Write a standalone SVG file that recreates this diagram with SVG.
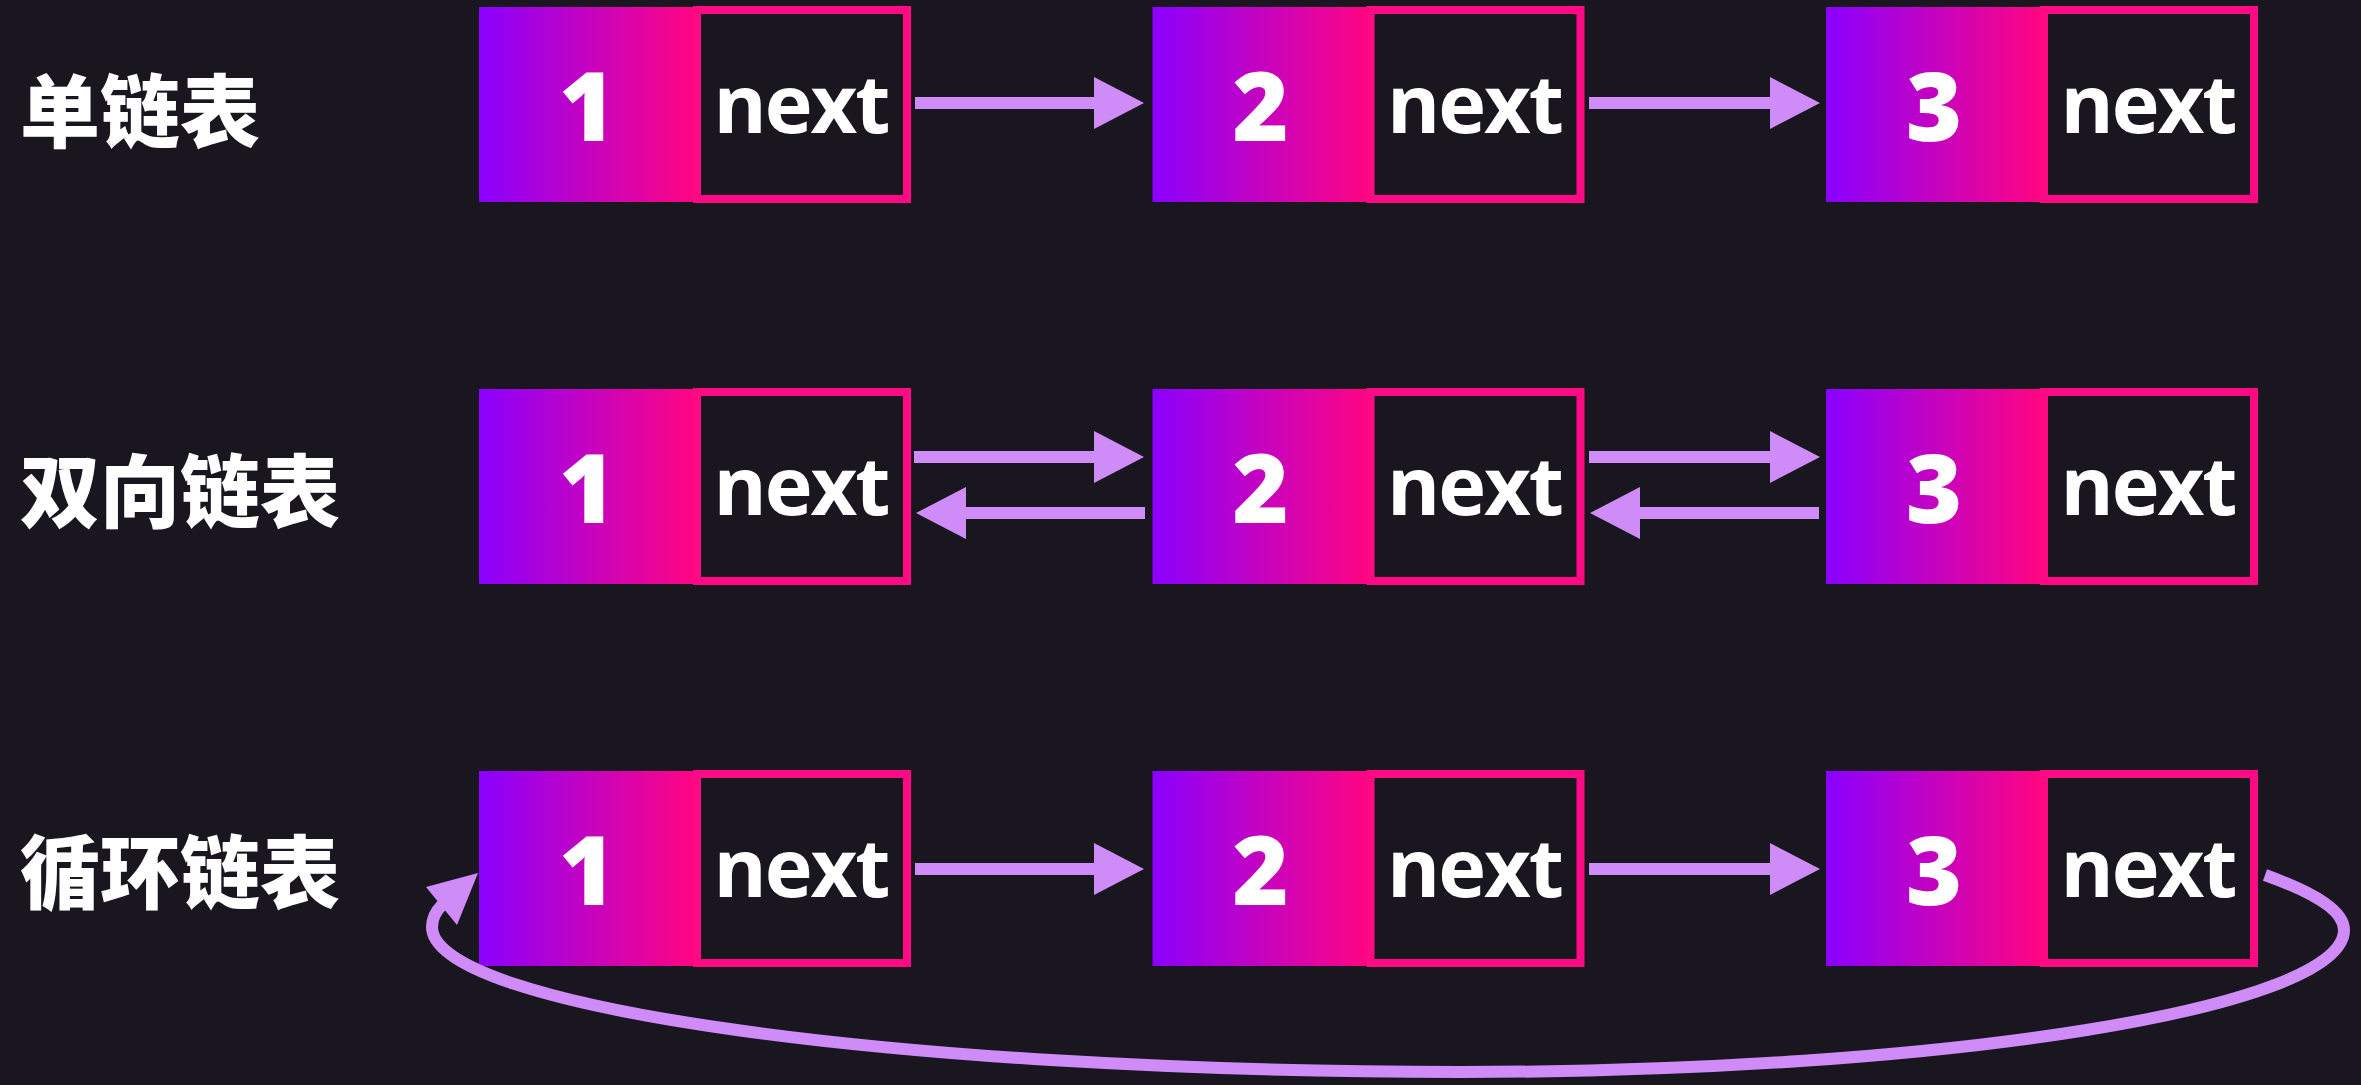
<svg xmlns="http://www.w3.org/2000/svg" width="2361" height="1085" viewBox="0 0 2361 1085">
<defs>
<linearGradient id="g" x1="0" y1="0" x2="1" y2="0">
<stop offset="0" stop-color="#8A00FF"/>
<stop offset="1" stop-color="#FF0582"/>
</linearGradient>
<marker id="ah" markerUnits="userSpaceOnUse" markerWidth="50" markerHeight="52" refX="0" refY="26" orient="auto">
<path d="M0,0 L50,26 L0,52 Z" fill="#CF8CF8"/>
</marker>
<style>
.val{fill:url(#g)}
.nx{fill:#19161F;stroke:#FF0A85;stroke-width:8}
.d{font-family:"Open Sans","Liberation Sans",sans-serif;font-weight:800;font-size:96px;fill:#fff;text-anchor:middle}
.n{font-family:"Open Sans","Liberation Sans",sans-serif;font-weight:700;font-size:81px;letter-spacing:-2px;fill:#fff;text-anchor:middle}
.lbl{font-family:"Noto Sans CJK SC",sans-serif;font-weight:900;font-size:80px;fill:#fff}
.ar{stroke:#CF8CF8;stroke-width:12;fill:none}
</style>
</defs>
<rect width="2361" height="1085" fill="#19161F"/>

<g id="labels">
<text class="lbl" x="20" y="141">单链表</text>
<text class="lbl" x="20" y="521">双向链表</text>
<text class="lbl" x="20" y="902">循环链表</text>
</g>

<!-- Row 1 -->
<g id="r1n1" transform="translate(479,6)">
<rect class="val" x="0" y="1" width="216" height="195"/>
<rect class="nx" x="218" y="4" width="210" height="189"/>
<text class="d" x="108" y="135">1</text>
<text class="n" x="322" y="127">next</text>
</g>
<g id="r1n2" transform="translate(1152.5,6)">
<rect class="val" x="0" y="1" width="216" height="195"/>
<rect class="nx" x="218" y="4" width="210" height="189"/>
<text class="d" x="108" y="135">2</text>
<text class="n" x="322" y="127">next</text>
</g>
<g id="r1n3" transform="translate(1826,6)">
<rect class="val" x="0" y="1" width="216" height="195"/>
<rect class="nx" x="218" y="4" width="210" height="189"/>
<text class="d" x="108" y="135">3</text>
<text class="n" x="322" y="127">next</text>
</g>

<!-- Row 2 -->
<g id="r2n1" transform="translate(479,388)">
<rect class="val" x="0" y="1" width="216" height="195"/>
<rect class="nx" x="218" y="4" width="210" height="189"/>
<text class="d" x="108" y="135">1</text>
<text class="n" x="322" y="127">next</text>
</g>
<g id="r2n2" transform="translate(1152.5,388)">
<rect class="val" x="0" y="1" width="216" height="195"/>
<rect class="nx" x="218" y="4" width="210" height="189"/>
<text class="d" x="108" y="135">2</text>
<text class="n" x="322" y="127">next</text>
</g>
<g id="r2n3" transform="translate(1826,388)">
<rect class="val" x="0" y="1" width="216" height="195"/>
<rect class="nx" x="218" y="4" width="210" height="189"/>
<text class="d" x="108" y="135">3</text>
<text class="n" x="322" y="127">next</text>
</g>

<!-- Row 3 -->
<g id="r3n1" transform="translate(479,770)">
<rect class="val" x="0" y="1" width="216" height="195"/>
<rect class="nx" x="218" y="4" width="210" height="189"/>
<text class="d" x="108" y="135">1</text>
<text class="n" x="322" y="127">next</text>
</g>
<g id="r3n2" transform="translate(1152.5,770)">
<rect class="val" x="0" y="1" width="216" height="195"/>
<rect class="nx" x="218" y="4" width="210" height="189"/>
<text class="d" x="108" y="135">2</text>
<text class="n" x="322" y="127">next</text>
</g>
<g id="r3n3" transform="translate(1826,770)">
<rect class="val" x="0" y="1" width="216" height="195"/>
<rect class="nx" x="218" y="4" width="210" height="189"/>
<text class="d" x="108" y="135">3</text>
<text class="n" x="322" y="127">next</text>
</g>

<g id="connectors">
<line class="ar" x1="915" y1="103" x2="1094" y2="103" marker-end="url(#ah)"/>
<line class="ar" x1="1589" y1="103" x2="1770" y2="103" marker-end="url(#ah)"/>

<line class="ar" x1="914" y1="457" x2="1094" y2="457" marker-end="url(#ah)"/>
<line class="ar" x1="1145" y1="513" x2="966" y2="513" marker-end="url(#ah)"/>
<line class="ar" x1="1589" y1="457" x2="1770" y2="457" marker-end="url(#ah)"/>
<line class="ar" x1="1819" y1="513" x2="1640" y2="513" marker-end="url(#ah)"/>

<line class="ar" x1="915" y1="869" x2="1094" y2="869" marker-end="url(#ah)"/>
<line class="ar" x1="1589" y1="869" x2="1770" y2="869" marker-end="url(#ah)"/>

<path class="ar" d="M2265,875 C2318,894 2344,912 2344,930 C2344,1008 1948,1072 1460,1072 C892,1072 432,1007 432,927 C432,918 436,911 442,905"/>
<polygon points="478,873 426,887 457,925" fill="#CF8CF8"/>
</g>
</svg>
